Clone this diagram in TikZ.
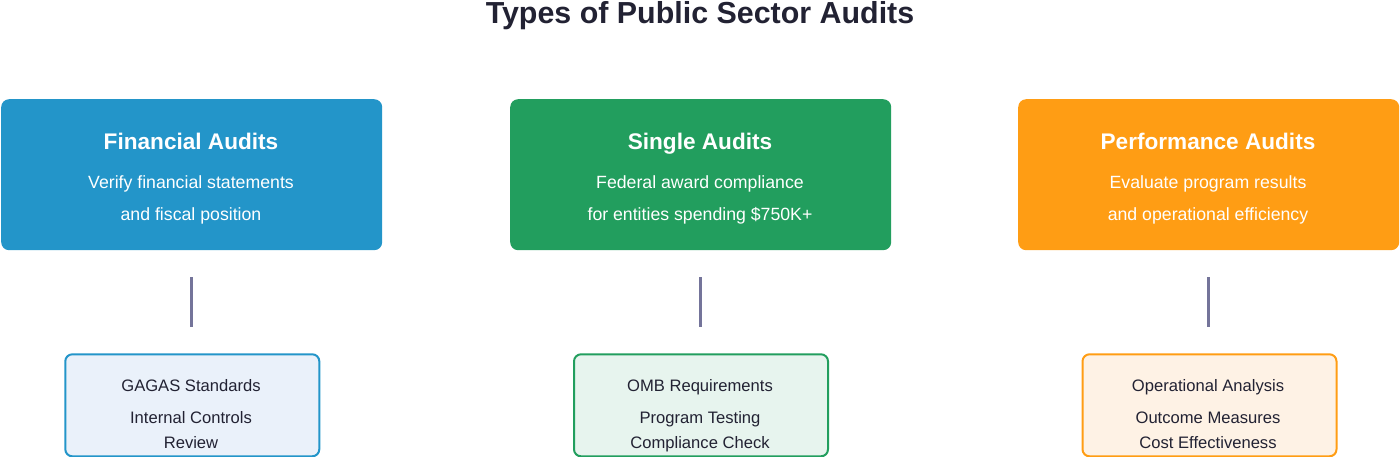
\documentclass[tikz,border=0pt]{standalone}
\usepackage{fontspec}
\setmainfont{Liberation Sans}
\definecolor{cblue}{HTML}{2395C9}
\definecolor{cgreen}{HTML}{229E5E}
\definecolor{corange}{HTML}{FF9D14}
\definecolor{lblue}{HTML}{EAF1FA}
\definecolor{lgreen}{HTML}{E7F4EE}
\definecolor{lorange}{HTML}{FEF2E5}
\definecolor{ctext}{HTML}{222233}
\definecolor{cline}{HTML}{74749A}
\tikzset{
  x=1pt,y=-1pt,
  topbox/.style={rounded corners=8pt,minimum width=381pt,minimum height=151pt,anchor=north west,inner sep=0pt},
  subbox/.style={rounded corners=7pt,minimum width=254pt,minimum height=102pt,anchor=north west,inner sep=0pt,line width=2pt},
  ttl/.style={font=\bfseries\fontsize{22.6}{26}\selectfont,text=white,anchor=base,inner sep=0pt},
  sub/.style={font=\fontsize{17.7}{20}\selectfont,text=white,anchor=base,inner sep=0pt},
  item/.style={font=\fontsize{16.6}{19}\selectfont,text=ctext,anchor=base,inner sep=0pt},
  conn/.style={draw=cline,line width=3pt}
}
\begin{document}
\begin{tikzpicture}
\useasboundingbox (0,0) rectangle (1400,456);
\node[font=\bfseries\fontsize{30.4}{34}\selectfont,text=ctext,anchor=base,inner sep=0pt] (title) at (700,23) {Types of Public Sector Audits};
% top boxes
\node[topbox,fill=cblue] (fa) at (1,99) {};
\node[topbox,fill=cgreen] (sa) at (510,99) {};
\node[topbox,fill=corange] (pa) at (1018,99) {};
\node[ttl] (fat) at (191,149) {Financial Audits};
\node[sub] (fa1) at (191,188) {Verify financial statements};
\node[sub] (fa2) at (191,220) {and fiscal position};
\node[ttl] (sat) at (700,149) {Single Audits};
\node[sub] (sa1) at (700,188) {Federal award compliance};
\node[sub] (sa2) at (700,220) {for entities spending \$750K+};
\node[ttl] (pat) at (1208,149) {Performance Audits};
\node[sub] (pa1) at (1208,188) {Evaluate program results};
\node[sub] (pa2) at (1208,220) {and operational efficiency};
% connectors
\coordinate (c1a) at (191,277); \coordinate (c1b) at (191,327);
\coordinate (c2a) at (700,277); \coordinate (c2b) at (700,327);
\coordinate (c3a) at (1208,277); \coordinate (c3b) at (1208,327);
\draw[conn] (c1a) -- (c1b);
\draw[conn] (c2a) -- (c2b);
\draw[conn] (c3a) -- (c3b);
% sub boxes
\node[subbox,draw=cblue,fill=lblue] (fb) at (64.3,353.3) {};
\node[subbox,draw=cgreen,fill=lgreen] (sb) at (573,353.3) {};
\node[subbox,draw=corange,fill=lorange] (pb) at (1081.5,353.3) {};
\node[item] (fb1) at (191,391.5) {GAGAS Standards};
\node[item] (fb2) at (191,423.5) {Internal Controls};
\node[item] (fb3) at (191,448.5) {Review};
\node[item] (sb1) at (700,391.5) {OMB Requirements};
\node[item] (sb2) at (700,423.5) {Program Testing};
\node[item] (sb3) at (700,448.5) {Compliance Check};
\node[item] (pb1) at (1208,391.5) {Operational Analysis};
\node[item] (pb2) at (1208,423.5) {Outcome Measures};
\node[item] (pb3) at (1208,448.5) {Cost Effectiveness};
\end{tikzpicture}
\end{document}
